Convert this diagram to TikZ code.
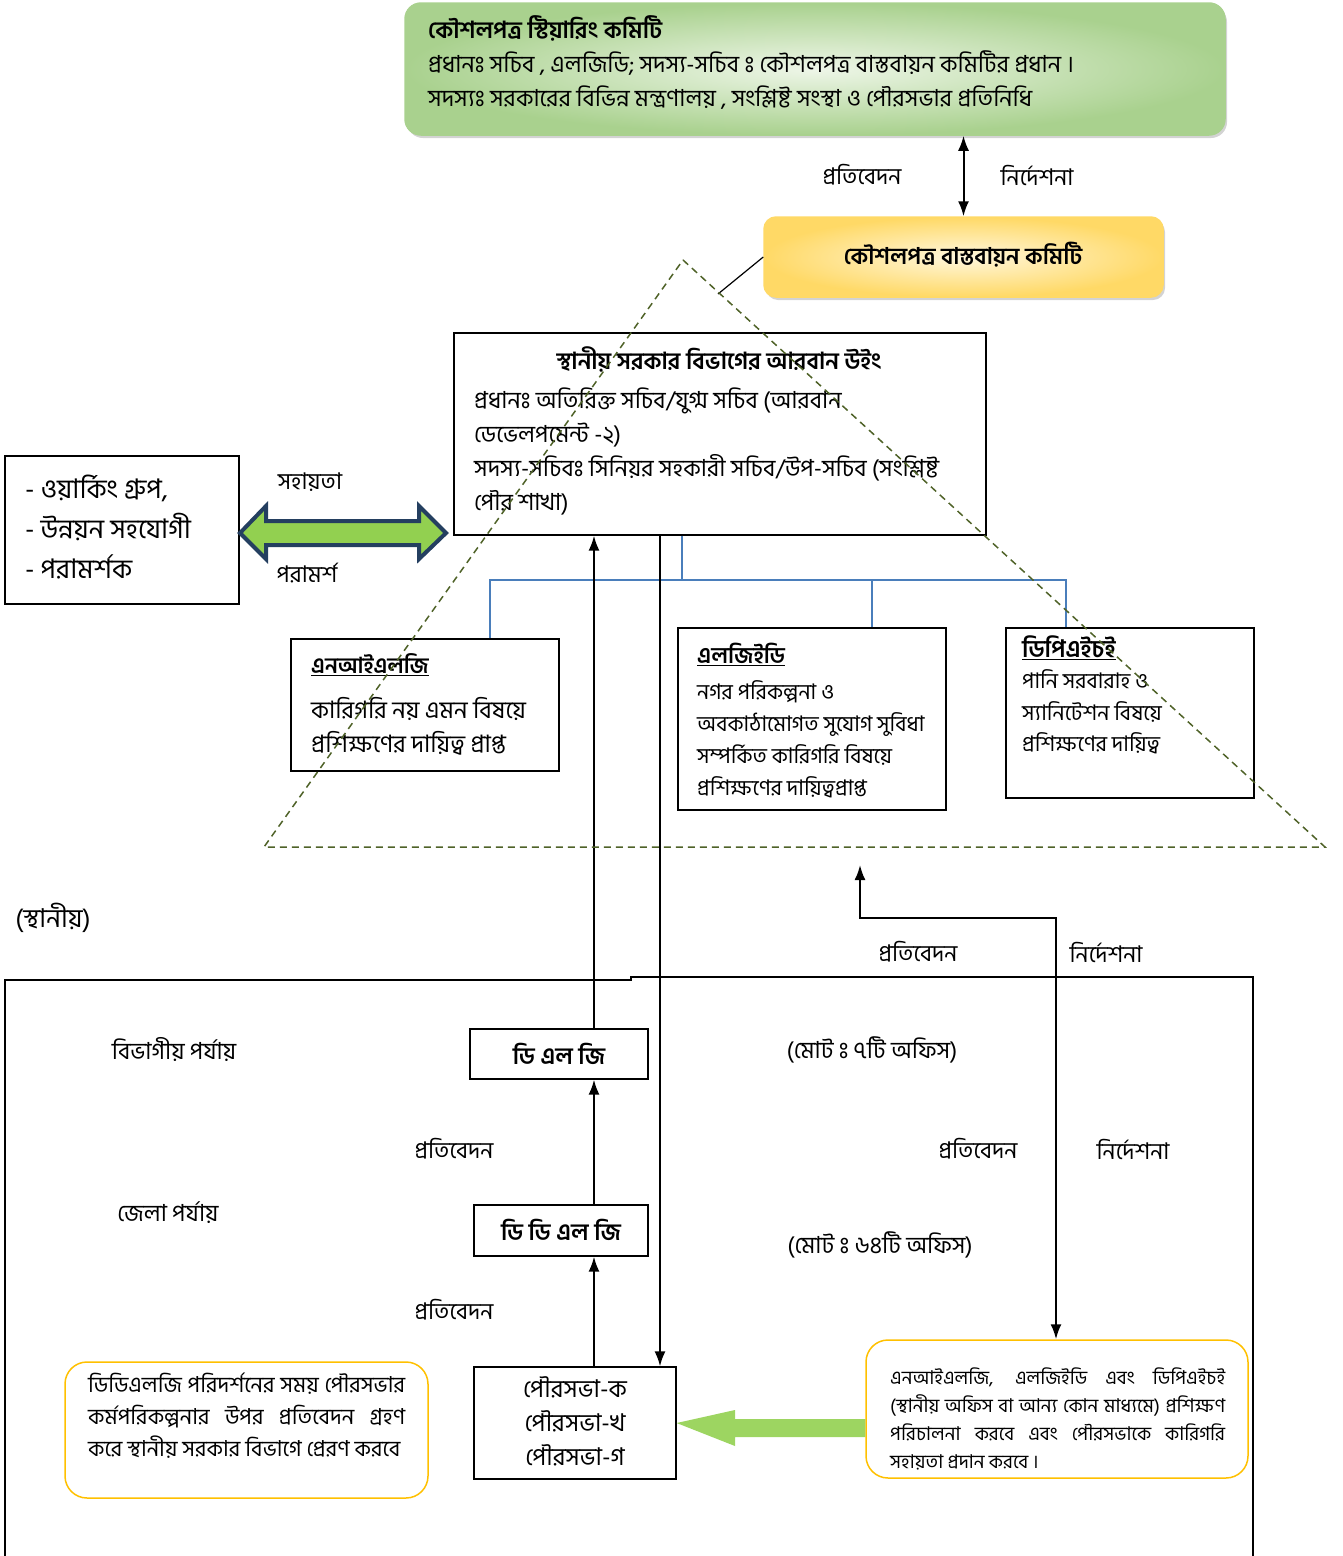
\documentclass[tikz,border=0pt]{standalone}
\usepackage{fontspec}
\setmainfont{Hind Siliguri}[Script=Bengali]
\usetikzlibrary{arrows.meta,shadows,calc}
\definecolor{triolive}{HTML}{4F6228}
\definecolor{gDark}{HTML}{A9D18E}
\definecolor{gLight}{HTML}{EEF6E8}
\definecolor{yDark}{HTML}{FFD966}
\definecolor{yLight}{HTML}{FFF7DD}
\definecolor{orng}{HTML}{FFC000}
\definecolor{conblue}{HTML}{4A7EBB}
\definecolor{navy}{HTML}{243F60}
\definecolor{lgreen}{HTML}{92D050}
\newcommand\vis{\XeTeXglyph\XeTeXcharglyph"0983\relax}
\newcommand\fsz[2]{\fontsize{#1}{#2}\selectfont}
\begin{document}
\begin{tikzpicture}[x=1pt,y=-1pt,
  >={Latex[length=15pt,width=11pt]},
  box/.style={draw, line width=1.2pt, inner sep=0pt},
  txt/.style={inner sep=0pt, align=left, anchor=west},
  ctxt/.style={inner sep=0pt, align=center},
  lbl/.style={ctxt, font=\fsz{23}{28}},
  arr/.style={line width=2pt},
  tri/.style={draw=triolive, dash pattern=on 7pt off 5pt, line width=1.5pt},
  note/.style={draw=orng, line width=1.5pt, rounded corners=22pt, inner sep=0pt}]
\useasboundingbox (0,0) rectangle (1343,1556);

% steering committee
\node[draw=gDark, line width=1.5pt, rounded corners=16pt, inner color=gLight, outer color=gDark,
  minimum width=820pt, minimum height=132pt,
  drop shadow={opacity=0.35, shadow xshift=2pt, shadow yshift=-3pt}] (steer) at (815,69) {};
\node[txt, font=\fsz{23.5}{30}\bfseries] (steerT) at (428,28) {কৌশলপত্র স্টিয়ারিং কমিটি};
\node[txt, font=\fsz{23.5}{34}] (steerB) at (428,80) {প্রধানঃ সচিব , এলজিডি; সদস্য-সচিব \vis{} কৌশলপত্র বাস্তবায়ন কমিটির প্রধান ।\\সদস্যঃ সরকারের বিভিন্ন মন্ত্রণালয় , সংশ্লিষ্ট সংস্থা ও পৌরসভার প্রতিনিধি};

% implementation committee
\node[draw=yDark, line width=1.5pt, rounded corners=12pt, inner color=yLight, outer color=yDark,
  minimum width=399pt, minimum height=80pt,
  drop shadow={opacity=0.35, shadow xshift=2pt, shadow yshift=-3pt}] (impl) at (963.5,257) {};
\node[ctxt, font=\fsz{23}{30}\bfseries] (implT) at (963,255) {কৌশলপত্র বাস্তবায়ন কমিটি};

\draw[arr,<->] (impl.north) -- (impl.north |- steer.south);
\node[lbl] (lbl1) at (862,175) {প্রতিবেদন};
\node[lbl] (lbl2) at (1037,175) {নির্দেশনা};

\coordinate (apexlink) at (718,294);
\draw[line width=1.2pt] (impl.west) -- (apexlink);

% urban wing
\node[box, minimum width=532pt, minimum height=202pt] (urban) at (720,434) {};
\node[ctxt, font=\fsz{23.5}{30}\bfseries] (urbanT) at (719,359) {স্থানীয় সরকার বিভাগের আরবান উইং};
\node[txt, font=\fsz{23.5}{34.3}] (urbanB) at (474,451.5) {প্রধানঃ অতিরিক্ত সচিব/যুগ্ম সচিব (আরবান\\ডেভেলপমেন্ট -২)\\সদস্য-সচিবঃ সিনিয়র সহকারী সচিব/উপ-সচিব (সংশ্লিষ্ট\\পৌর শাখা)};

% left box
\node[box, minimum width=234pt, minimum height=148pt] (wg) at (122,530) {};
\node[txt, font=\fsz{27}{40}] (wgT) at (25,527) {- ওয়ার্কিং গ্রুপ,\\- উন্নয়ন সহযোগী\\- পরামর্শক};

% big double arrow
\draw[navy, line width=4pt, line join=miter, fill=lgreen]
  (240,533) -- (266,506) -- (266,521) -- (419,521) -- (419,506) -- (446,533)
  -- (419,559) -- (419,545) -- (266,545) -- (266,559) -- cycle;
\node[lbl] (lbl3) at (310,482) {সহায়তা};
\node[lbl] (lbl4) at (307,573) {পরামর্শ};

% three agencies
\node[box, minimum width=268pt, minimum height=132pt] (nilg) at (425,705) {};
\node[txt, font=\fsz{22}{30}\bfseries] (nilgT) at (311,665) {\underline{এনআইএলজি}};
\node[txt, font=\fsz{24}{34}] (nilgB) at (311,726) {কারিগরি নয় এমন বিষয়ে\\প্রশিক্ষণের দায়িত্ব প্রাপ্ত};

\node[box, minimum width=268pt, minimum height=182pt] (lged) at (812,719) {};
\node[txt, font=\fsz{22.5}{30}\bfseries] (lgedT) at (697,654) {\underline{এলজিইডি}};
\node[txt, font=\fsz{21.5}{32}] (lgedB) at (697,739) {নগর পরিকল্পনা ও\\অবকাঠামোগত সুযোগ সুবিধা\\সম্পর্কিত কারিগরি বিষয়ে\\প্রশিক্ষণের দায়িত্বপ্রাপ্ত};

\node[draw, line width=2pt, inner sep=0pt, minimum width=248pt, minimum height=170pt] (dphe) at (1130,713) {};
\node[txt, font=\fsz{24}{30}\bfseries] (dpheT) at (1022,648) {\underline{ডিপিএইচই}};
\node[txt, font=\fsz{21.5}{31.5}] (dpheB) at (1022,712) {পানি সরবারাহ ও\\স্যানিটেশন বিষয়ে\\প্রশিক্ষণের দায়িত্ব};

% blue connectors
\coordinate (bus) at (682,580);
\draw[conblue, line width=1.5pt] (bus |- urban.south) -- (bus);
\draw[conblue, line width=1.5pt] (nilg.north -| 490,0) -- (490,580) -- (1066,580) -- (dphe.north -| 1066,0);
\draw[conblue, line width=1.5pt] (872,580) -- (lged.north -| 872,0);

% local level
\node[ctxt, font=\fsz{26}{30}] (local) at (53,918) {(স্থানীয়)};
\draw[line width=2.2pt] (5,980) -- (631,980) -- (631,977) -- (1253,977);
\draw[line width=1.2pt] (5,979) -- (5,1556);
\draw[line width=1.2pt] (1253,976) -- (1253,1556);

\node[box, minimum width=178pt, minimum height=50pt] (dlg) at (559,1054) {};
\node[ctxt, font=\fsz{23.5}{30}\bfseries] (dlgT) at (559,1054) {ডি এল জি};
\node[box, minimum width=174pt, minimum height=51pt] (ddlg) at (561,1230.5) {};
\node[ctxt, font=\fsz{23.5}{30}\bfseries] (ddlgT) at (561,1230) {ডি ডি এল জি};
\node[box, minimum width=202pt, minimum height=112pt] (pou) at (575,1423) {};
\node[ctxt, font=\fsz{24.5}{34}] (pouT) at (575,1421) {পৌরসভা-ক\\পৌরসভা-খ\\পৌরসভা-গ};

\node[ctxt, font=\fsz{23.5}{30}] (lv1) at (174,1049) {বিভাগীয় পর্যায়};
\node[ctxt, font=\fsz{23.5}{30}] (lv2) at (168,1213) {জেলা পর্যায়};
\node[ctxt, font=\fsz{23.5}{30}] (tot1) at (872,1050) {(মোট \vis{} ৭টি অফিস)};
\node[ctxt, font=\fsz{23.5}{30}] (tot2) at (880,1245) {(মোট \vis{} ৬৪টি অফিস)};
\node[lbl] (r1) at (454,1149) {প্রতিবেদন};
\node[lbl] (r2) at (454,1310) {প্রতিবেদন};
\node[lbl] (r3) at (978,1149) {প্রতিবেদন};
\node[lbl] (d3) at (1133,1149) {নির্দেশনা};
\node[lbl] (r4) at (918,952) {প্রতিবেদন};
\node[lbl] (d4) at (1106,952) {নির্দেশনা};

% vertical arrows
\coordinate (upx) at (594,0);
\coordinate (dnx) at (660,0);
\draw[arr,->] (upx |- dlg.north) -- (upx |- urban.south);
\draw[arr,->] (upx |- ddlg.north) -- (upx |- dlg.south);
\draw[arr,->] (upx |- pou.north) -- (upx |- ddlg.south);
\draw[arr,->] (dnx |- urban.south) -- (dnx |- pou.north);

% notes
\node[note, minimum width=363pt, minimum height=136pt] (noteL) at (246.5,1430) {};
\node[txt, font=\fsz{22}{32}] (noteLT) at (88,1416) {\makebox[317pt][s]{ডিডিএলজি পরিদর্শনের সময় পৌরসভার}\\\makebox[317pt][s]{কর্মপরিকল্পনার উপর প্রতিবেদন গ্রহণ}\\করে স্থানীয় সরকার বিভাগে প্রেরণ করবে};

\node[note, minimum width=382pt, minimum height=138pt] (noteR) at (1057,1409) {};
\node[txt, font=\fsz{19}{28}] (noteRT) at (890,1419) {\makebox[335pt][s]{এনআইএলজি, এলজিইডি এবং ডিপিএইচই}\\\makebox[335pt][s]{(স্থানীয় অফিস বা আন্য কোন মাধ্যমে) প্রশিক্ষণ}\\\makebox[335pt][s]{পরিচালনা করবে এবং পৌরসভাকে কারিগরি}\\সহায়তা প্রদান করবে ।};

% feedback loop
\coordinate (fbx) at (1056,0);
\coordinate (fb1) at (860,918);
\coordinate (fbt) at (860,865);
\draw[arr,<->] (fbt) -- (fb1) -- (fbx |- fb1) -- (fbx |- noteR.north);

% green arrow to pourashava
\fill[lgreen, opacity=0.9] (pou.east) -- (735,1410) -- (735,1419) -- (noteR.west |- 0,1419)
  -- (noteR.west |- 0,1437) -- (735,1437) -- (735,1446) -- cycle;

% dashed triangle
\draw[tri] (683,260) -- (1325,847) -- (264,847) -- cycle;
\end{tikzpicture}
\end{document}
